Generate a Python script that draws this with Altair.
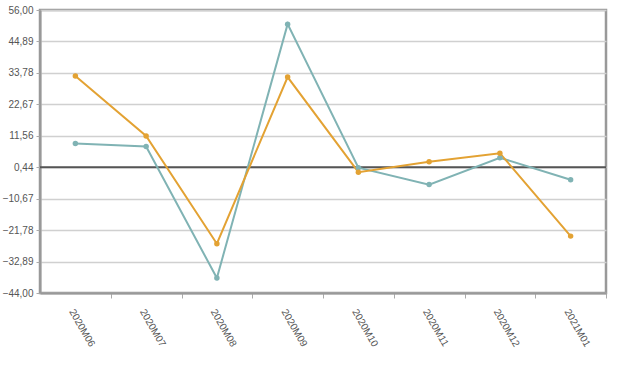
import altair as alt
import pandas as pd

months = ["2020M06", "2020M07", "2020M08", "2020M09", "2020M10", "2020M11", "2020M12", "2021M01"]
series_orange = [32.7, 11.5, -26.6, 32.3, -1.3, 2.4, 5.4, -23.9]
series_teal = [8.8, 7.8, -38.7, 51.0, 0.3, -5.7, 3.8, -4.0]
y_ticks = [56.00, 44.89, 33.78, 22.67, 11.56, 0.44, -10.67, -21.78, -32.89, -44.00]
ref_value = [0.44]

rows = []
for m, v in zip(months, series_teal):
    rows.append({"month": m, "value": v, "series": "B"})
for m, v in zip(months, series_orange):
    rows.append({"month": m, "value": v, "series": "A"})
df = pd.DataFrame(rows)

W, H = 566, 283
step = W / len(months)

x_enc = alt.X(
    "month:O",
    sort=months,
    scale=alt.Scale(type="point", padding=0.5),
    axis=alt.Axis(
        title=None,
        labelAngle=60,
        labelAlign="left",
        labelBaseline="top",
        labelFont="Liberation Sans",
        labelFontSize=10,
        labelColor="#555555",
        labelPadding=9,
        labelOverlap=False,
        tickOffset=step / 2,
        labelOffset=-step / 2,
        tickSize=5,
        tickColor="#aaaaaa",
        domainColor="#999999",
        domainWidth=2,
        grid=False,
    ),
)
y_scale = alt.Scale(domain=[-44, 56], nice=False, zero=False)
y_enc = alt.Y(
    "value:Q",
    scale=y_scale,
    axis=alt.Axis(
        title=None,
        values=y_ticks,
        tickCount=20,
        labelExpr="replace(format(datum.value, '.2f'), '.', ',')",
        labelFont="Liberation Sans",
        labelFontSize=10,
        labelColor="#555555",
        labelOverlap=False,
        labelPadding=3,
        tickSize=4,
        tickColor="#aaaaaa",
        domainColor="#999999",
        domainWidth=2,
        grid=True,
        gridColor="#d0d0d0",
        gridWidth=1.5,
    ),
)
color = alt.Color(
    "series:N",
    scale=alt.Scale(domain=["A", "B"], range=["#E3A233", "#80B3B4"]),
    legend=None,
)

lines = alt.Chart(df).mark_line(strokeWidth=2).encode(x=x_enc, y=y_enc, color=color, detail="series:N")
points = alt.Chart(df).mark_circle(size=30, opacity=1).encode(x=x_enc, y=y_enc, color=color)

rule = alt.Chart(pd.DataFrame({"v": ref_value})).mark_rule(color="#555555", strokeWidth=2).encode(
    y=alt.Y("v:Q", scale=y_scale)
)

chart = (
    alt.layer(rule, lines, points)
    .properties(
        width=W,
        height=H,
        autosize=alt.AutoSizeParams(type="none"),
        padding={"left": 40, "top": 10, "right": 14, "bottom": 75},
        background="white",
    )
    .configure_view(stroke="#999999", strokeWidth=2.5)
)

chart.save("out.html", embed_options={"renderer": "svg", "actions": False})
